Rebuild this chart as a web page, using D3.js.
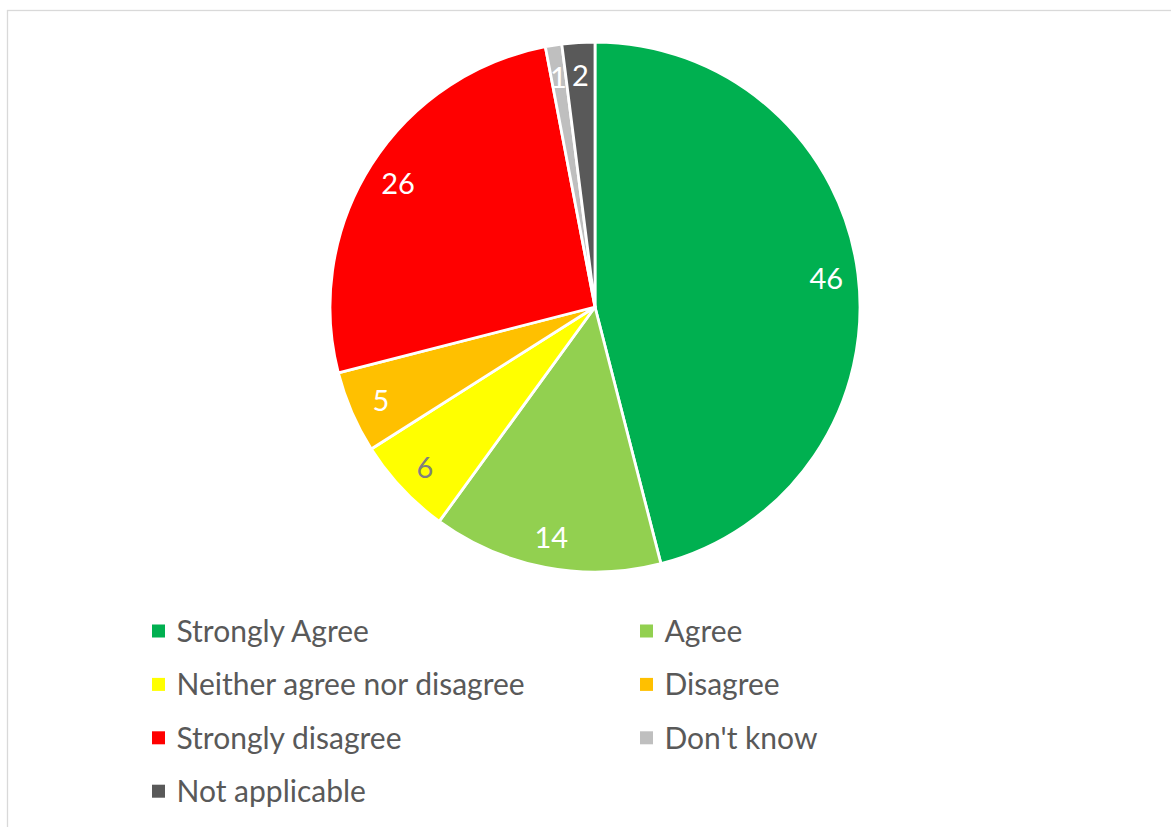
<!DOCTYPE html>
<html>
<head>
<meta charset="utf-8">
<script src="https://cdn.jsdelivr.net/npm/d3@7"></script>
<style>
  html, body { margin: 0; padding: 0; background: #ffffff; }
  svg { display: block; }
  text { font-family: Lato, "Open Sans", sans-serif; }
</style>
</head>
<body>
<svg id="chart" width="1171" height="827"></svg>
<script>
// Survey responses (percent of respondents)
const categories = [
  "Strongly Agree",
  "Agree",
  "Neither agree nor disagree",
  "Disagree",
  "Strongly disagree",
  "Don't know",
  "Not applicable"
];
const values = [46, 14, 6, 5, 26, 1, 2];

// Legend order: two columns, read left to right
const legendOrder = [
  "Strongly Agree", "Agree",
  "Neither agree nor disagree", "Disagree",
  "Strongly disagree", "Don't know",
  "Not applicable"
];

const W = 1171, H = 827;
const svg = d3.select("#chart");

// Chart frame
svg.append("rect")
  .attr("x", 7.5).attr("y", 10.5)
  .attr("width", W + 20).attr("height", H + 20)
  .attr("fill", "#ffffff")
  .attr("stroke", "#d9d9d9")
  .attr("stroke-width", 1.3);

const color = d3.scaleOrdinal()
  .domain(categories)
  .range(["#00b050", "#92d050", "#ffff00", "#ffc000", "#ff0000", "#bfbfbf", "#595959"]);

const labelColor = d3.scaleOrdinal()
  .domain(categories)
  .range(["#ffffff", "#ffffff", "#7f7f7f", "#ffffff", "#ffffff", "#ffffff", "#ffffff"]);

const cx = 595, cy = 307, R = 265;

const data = categories.map((c, i) => ({ category: c, value: values[i] }));

const pie = d3.pie()
  .value(d => d.value)
  .sort(null)
  .startAngle(0)
  .endAngle(2 * Math.PI);

const arcs = pie(data);

const arc = d3.arc().innerRadius(0).outerRadius(R);
const labelArc = d3.arc().innerRadius(R * 0.88).outerRadius(R * 0.88);

const g = svg.append("g").attr("transform", `translate(${cx},${cy})`);

g.selectAll("path.slice")
  .data(arcs)
  .join("path")
  .attr("class", "slice")
  .attr("d", arc)
  .attr("fill", d => color(d.data.category))
  .attr("stroke", "#ffffff")
  .attr("stroke-width", 2.8)
  .attr("stroke-linejoin", "round");

g.selectAll("text.value")
  .data(arcs)
  .join("text")
  .attr("class", "value")
  .attr("transform", d => `translate(${labelArc.centroid(d)})`)
  .attr("text-anchor", "middle")
  .attr("dominant-baseline", "central")
  .attr("font-size", 29)
  .attr("fill", d => labelColor(d.data.category))
  .text(d => d.data.value);

// Legend
const legend = svg.append("g");
const colX = [152, 640];
const rowY0 = 630, rowStep = 53.4;

const items = legend.selectAll("g.item")
  .data(legendOrder)
  .join("g")
  .attr("class", "item")
  .attr("transform", (d, i) => `translate(${colX[i % 2]},${rowY0 + Math.floor(i / 2) * rowStep})`);

items.append("rect")
  .attr("x", 0).attr("y", -5.5)
  .attr("width", 13).attr("height", 13)
  .attr("fill", d => color(d));

items.append("text")
  .attr("x", 24.5)
  .attr("y", 0)
  .attr("dominant-baseline", "central")
  .attr("font-size", 30)
  .attr("fill", "#595959")
  .text(d => d);
</script>
</body>
</html>
